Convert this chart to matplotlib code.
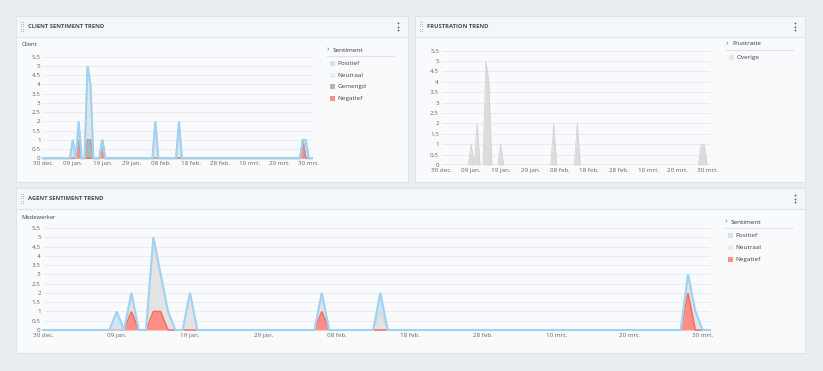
import numpy as np
import pandas as pd
import matplotlib
matplotlib.use("Agg")
import matplotlib.pyplot as plt
from matplotlib.patches import Rectangle

plt.rcParams["font.family"] = ["Open Sans", "DejaVu Sans"]

W, H = 823, 371

# ---- data (daily counts, only non-zero days listed) ----
START = "2020-12-30"
N_DAYS = 92
TICK_LABELS = ["30 dec.", "09 jan.", "19 jan.", "29 jan.", "08 feb.",
               "18 feb.", "28 feb.", "10 mrt.", "20 mrt.", "30 mrt."]
Y_TICKS = [0, 0.5, 1, 1.5, 2, 2.5, 3, 3.5, 4, 4.5, 5, 5.5]

client_neg = {"2021-01-11": 1, "2021-01-19": 1, "2021-03-28": 1}
client_mix = {"2021-01-14": 1, "2021-01-15": 1}
client_neu = {"2021-01-09": 1, "2021-01-11": 1, "2021-01-14": 4, "2021-01-15": 3,
              "2021-02-06": 2, "2021-02-14": 2, "2021-03-29": 1}
client_pos = {}

frustration_other = {"2021-01-09": 1, "2021-01-11": 2, "2021-01-14": 5, "2021-01-15": 4,
                     "2021-01-19": 1, "2021-02-06": 2, "2021-02-14": 2,
                     "2021-03-28": 1, "2021-03-29": 1}

agent_neg = {"2021-01-11": 1, "2021-01-14": 1, "2021-01-15": 1,
             "2021-02-06": 1, "2021-03-28": 2}
agent_neu = {"2021-01-11": 1, "2021-01-14": 4, "2021-01-15": 2, "2021-01-16": 1,
             "2021-01-19": 2, "2021-02-06": 1, "2021-02-14": 1,
             "2021-03-28": 1, "2021-03-29": 1}
agent_pos = {"2021-01-09": 1, "2021-02-14": 1}

DATES = pd.date_range(START, periods=N_DAYS, freq="D")


def daily(d):
    s = pd.Series(0.0, index=DATES)
    for k, v in d.items():
        s[pd.Timestamp(k)] = v
    return s.values


# colours
BG = "#e9eef3"
PANEL = "#f8fafc"
HEADER = "#f4f7fa"
BORDER = "#dfe5ec"
GRID = "#e8ebee"
TXT = "#666666"
POS_FILL, POS_LINE = "#cde6f7", "#a0d2f3"
NEU_FILL, NEU_LINE = "#e4e4e4", "#d8d8d8"
MIX_FILL, MIX_LINE = "#b4b4b4", "#a4a4a4"
NEG_FILL, NEG_LINE = "#ff8f86", "#f26c62"

fig = plt.figure(figsize=(W / 100, H / 100), dpi=100, facecolor=BG)
bg = fig.add_axes([0, 0, 1, 1])
bg.set_xlim(0, W)
bg.set_ylim(H, 0)
bg.set_axis_off()


def panel(x0, y0, x1, y1, title):
    bg.add_patch(Rectangle((x0, y0), x1 - x0, y1 - y0, fc=PANEL, ec=BORDER, lw=0.8))
    bg.add_patch(Rectangle((x0, y0), x1 - x0, 21, fc=HEADER, ec=BORDER, lw=0.8))
    # drag handle
    for dx in (0, 2):
        for dy in range(5):
            bg.plot(x0 + 5 + dx, y0 + 6 + dy * 2.2, "o", ms=0.7, color="#aab4be", mew=0)
    for dy in (-3.5, 0, 3.5):
        bg.plot(x1 - 10, y0 + 10.5 + dy, "o", ms=1.3, color="#555f69", mew=0)
    bg.text(x0 + 12, y0 + 10.5, title, fontsize=4.2, weight="bold",
            color="#3d4f60", va="center", ha="left")


panel(16, 16, 408, 182, "CLIENT SENTIMENT TREND")
panel(415, 16, 805, 182, "FRUSTRATION TREND")
panel(16, 188, 805, 353, "AGENT SENTIMENT TREND")


def chart(x0, x1, ytop, ybot):
    # ytop = pixel row of 5.5, ybot = pixel row of 0
    ax = fig.add_axes([x0 / W, 1 - ybot / H, (x1 - x0) / W, (ybot - ytop) / H])
    ax.set_facecolor("none")
    ax.set_xlim(DATES[0], DATES[-1])
    ax.set_ylim(0, 5.5)
    ax.set_yticks(Y_TICKS)
    ax.set_yticklabels([("%g" % v) for v in Y_TICKS])
    ax.set_xticks(DATES[::10])
    ax.set_xticklabels(TICK_LABELS)
    ax.tick_params(length=0, labelsize=4.5, colors=TXT, pad=2)
    ax.grid(axis="y", color=GRID, lw=0.6)
    ax.set_axisbelow(True)
    for s in ax.spines.values():
        s.set_visible(False)
    ax.margins(0)
    return ax


def stacked(ax, series):
    base = np.zeros(N_DAYS)
    for vals, fc, lc, lw in series:
        top = base + vals
        ax.fill_between(DATES, base, top, color=fc, lw=0, zorder=2)
        base = top
    base = np.zeros(N_DAYS)
    for vals, fc, lc, lw in series:
        base = base + vals
        ax.plot(DATES, base, color=lc, lw=lw, zorder=3, clip_on=False,
                solid_joinstyle="miter")


def legend(x, y, title, items, line_w=67):
    bg.text(x, y, "›", fontsize=6, color="#777777", va="center", ha="left")
    bg.text(x + 6, y, title, fontsize=4.6, color="#333333", va="center", ha="left")
    bg.plot([x, x + line_w], [y + 6, y + 6], color="#dde3e8", lw=0.8)
    for i, (lab, c) in enumerate(items):
        yy = y + 13.5 + i * 11.6
        bg.add_patch(Rectangle((x + 3, yy - 2.5), 5, 5, fc=c, ec="none"))
        bg.text(x + 10.5, yy, lab, fontsize=4.6, color="#444444", va="center", ha="left")


# client sentiment
ax = chart(43.3, 311.7, 56.7, 158.3)
stacked(ax, [(daily(client_neg), NEG_FILL, NEG_LINE, 1.1),
             (daily(client_mix), MIX_FILL, MIX_LINE, 1.1),
             (daily(client_neu), NEU_FILL, NEU_LINE, 1.1),
             (daily(client_pos), POS_FILL, POS_LINE, 1.5)])
bg.text(21.5, 44.5, "Client", fontsize=4.2, color="#444444", va="center")
legend(327, 50, "Sentiment", [("Positief", POS_FILL), ("Neutraal", "#ececec"),
                              ("Gemengd", MIX_FILL), ("Negatief", NEG_FILL)])

# frustration
ax = chart(441.7, 710, 50.7, 165)
ax.fill_between(DATES, 0, daily(frustration_other), color="#dcdcdc", lw=0, zorder=2)
ax.plot(DATES, daily(frustration_other), color="#d4d4d4", lw=0.6, zorder=3)
legend(726, 43.5, "Frustratie", [("Overige", "#e6e6e6")])

# agent sentiment
ax = chart(43.5, 710, 228, 330)
stacked(ax, [(daily(agent_neg), NEG_FILL, NEG_LINE, 1.1),
             (daily(agent_neu), NEU_FILL, NEU_LINE, 1.1),
             (daily(agent_pos), POS_FILL, POS_LINE, 1.5)])
bg.text(21, 217.5, "Medewerker", fontsize=4.2, color="#444444", va="center")
legend(725, 222.3, "Sentiment", [("Positief", POS_FILL), ("Neutraal", "#ececec"),
                                 ("Negatief", NEG_FILL)])

fig.savefig("out.png", dpi=100, facecolor=BG)
